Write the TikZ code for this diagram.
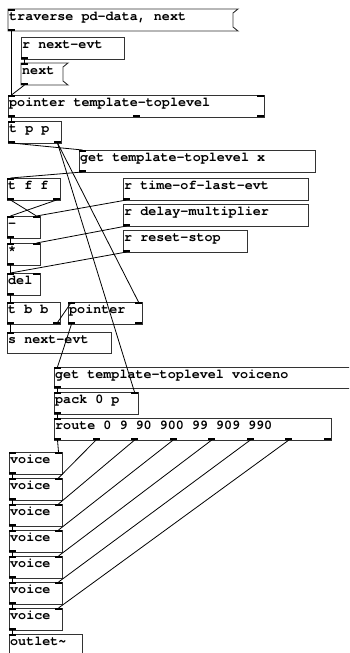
\documentclass[tikz,border=0pt]{standalone}
\usepackage{fontspec}
\newfontfamily\cursorfont{texgyrecursor}[Extension=.otf, UprightFont=*-regular, BoldFont=*-bold]
\newcommand\pdfont{\cursorfont\bfseries\fontsize{13.4}{14}\selectfont}

\tikzset{
  pdframe/.style={draw=black!80, line width=0.9pt},
  pdbase/.style={anchor=north west, inner sep=0pt, rectangle},
  pdlabel/.style={anchor=base west, inner sep=0pt, font=\pdfont},
  wire/.style={draw=black, line width=0.8pt},
}

% a row of inlets or outlets: prefix, left, right, edge y, count, y shift of the tab
\newcommand\pdrow[6]{%
  \ifnum#5>0
    \foreach \k in {1,...,#5}{%
      \ifnum#5=1 \def\px{#2}\else
        \pgfmathsetmacro\px{#2+(#3-#2-7)*(\k-1)/(#5-1)}\fi
      \fill[black] (\px,#4+#6) rectangle ++(7,2);
      \coordinate (#1\k) at (\px+3.5,#4);
    }%
  \fi}

% object box: name, left, top, right, bottom, inlets, outlets, text
\newcommand\pdobj[8]{%
  \pgfmathsetmacro\pdw{#4-#2}\pgfmathsetmacro\pdh{#5-#3}%
  \node[pdbase, pdframe, minimum width=\pdw pt, minimum height=\pdh pt] (#1) at (#2,#3) {};
  \node[pdlabel] (#1-label) at (#2+1,#3+11) {#8};
  \pdrow{#1-in}{#2}{#4}{#3}{#6}{0}%
  \pdrow{#1-out}{#2}{#4}{#5}{#7}{-2}%
}

% message box with the notched right side: name, left, top, right, bottom, text
\newcommand\pdmsg[6]{%
  \pgfmathsetmacro\pdw{#4-#2}\pgfmathsetmacro\pdh{#5-#3}%
  \node[pdbase, minimum width=\pdw pt, minimum height=\pdh pt] (#1) at (#2,#3) {};
  \draw[pdframe] (#2,#3) -- (#4,#3) -- (#4-5,#3+4) -- (#4-5,#5-4) -- (#4,#5) -- (#2,#5) -- cycle;
  \node[pdlabel] (#1-label) at (#2+1,#3+11) {#6};
  \pdrow{#1-in}{#2}{#4}{#3}{1}{0}%
  \pdrow{#1-out}{#2}{#4}{#5}{1}{-2}%
}

\begin{document}
\begin{tikzpicture}[x=1pt, y=-1pt]
\useasboundingbox (0,0) rectangle (349,653);
\clip (0,0) rectangle (349,653);
\fill[white] (0,0) rectangle (349,653);

% boxes
\pdmsg{trav}{8}{9}{238}{31}{traverse pd-data, next}
\pdobj{rnext}{21}{37}{124}{59}{0}{1}{r next-evt}
\pdmsg{nextmsg}{21}{63}{68}{85}{next}
\pdobj{ptop}{8}{95}{264}{117}{2}{3}{pointer template-toplevel}
\pdobj{tpp}{8}{121}{61}{143}{1}{2}{t p p}
\pdobj{getx}{79}{150}{315}{172}{1}{1}{get template-toplevel x}
\pdobj{tff}{7}{178}{60}{200}{1}{2}{t f f}
\pdobj{rtime}{123}{178}{308}{200}{0}{1}{r time-of-last-evt}
\pdobj{minus}{7}{216}{40}{238}{2}{1}{-}
\pdobj{rdelay}{123}{204}{308}{226}{0}{1}{r delay-multiplier}
\pdobj{times}{7}{243}{40}{265}{2}{1}{*}
\pdobj{rreset}{123}{230}{247}{252}{0}{1}{r reset-stop}
\pdobj{del}{7}{273}{40}{295}{2}{1}{del}
\pdobj{tbb}{7}{302}{60}{324}{1}{2}{t b b}
\pdobj{ptr}{68}{302}{142}{324}{2}{2}{pointer}
\pdobj{snext}{7}{332}{111}{353}{1}{0}{s next-evt}
\pdobj{getv}{54}{367}{360}{388}{1}{1}{get template-toplevel voiceno}
\pdobj{pack}{54}{392}{138}{414}{2}{1}{pack 0 p}
\pdobj{route}{54}{418}{331}{440}{1}{8}{route 0 9 90 900 99 909 990}
\foreach \v [count=\n] in {452,478,504,530,556,582,608}{%
  \pdobj{voice\n}{9}{\v}{62}{\v+22}{2}{1}{voice}
}
\pdobj{outsig}{9}{634}{82}{656}{1}{0}{outlet\char"7E}

% connections
\draw[wire] (trav-out1) -- (ptop-in1);
\draw[wire] (rnext-out1) -- (nextmsg-in1);
\draw[wire] (nextmsg-out1) -- (ptop-in1);
\draw[wire] (ptop-out1) -- (tpp-in1);
\draw[wire] (tpp-out1) -- (getx-in1);
\draw[wire] (tpp-out2) -- (ptr-in2);
\draw[wire] (tpp-out2) -- (pack-in2);
\draw[wire] (getx-out1) -- (tff-in1);
\draw[wire] (tff-out1) -- (minus-in2);
\draw[wire] (tff-out2) -- (minus-in1);
\draw[wire] (rtime-out1) -- (minus-in2);
\draw[wire] (rdelay-out1) -- (times-in2);
\draw[wire] (minus-out1) -- (times-in1);
\draw[wire] (times-out1) -- (del-in1);
\draw[wire] (rreset-out1) -- (del-in1);
\draw[wire] (del-out1) -- (tbb-in1);
\draw[wire] (tbb-out1) -- (snext-in1);
\draw[wire] (tbb-out2) -- (ptr-in1);
\draw[wire] (ptr-out1) -- (getv-in1);
\draw[wire] (getv-out1) -- (pack-in1);
\draw[wire] (pack-out1) -- (route-in1);
\foreach \k in {1,...,7}{\draw[wire] (route-out\k) -- (voice\k-in2);}
\foreach \k [evaluate=\k as \j using int(\k+1)] in {1,...,6}{\draw[wire] (voice\k-out1) -- (voice\j-in1);}
\draw[wire] (voice7-out1) -- (outsig-in1);
\end{tikzpicture}
\end{document}
